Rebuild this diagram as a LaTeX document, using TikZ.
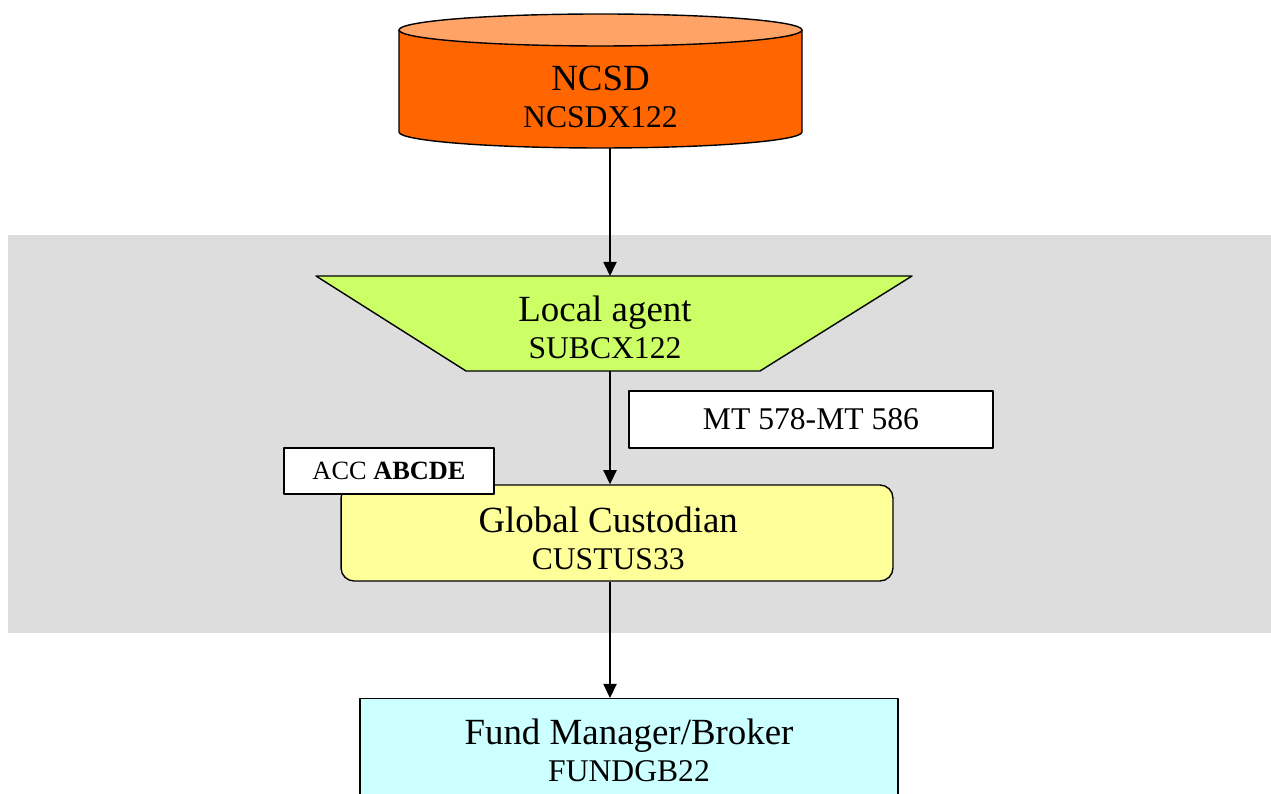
\documentclass[tikz,border=0pt]{standalone}
\usepackage{fontspec}
\setmainfont{Liberation Serif}
\usetikzlibrary{arrows.meta}
\definecolor{bandgray}{HTML}{DDDDDD}
\definecolor{csdbody}{HTML}{FF6600}
\definecolor{csdtop}{HTML}{FFA366}
\definecolor{agentgreen}{HTML}{CCFF66}
\definecolor{custyellow}{HTML}{FFFF99}
\definecolor{fundcyan}{HTML}{CCFFFF}
\newcommand{\twoline}[2]{{\fontsize{21}{21}\selectfont #1}\\#2}
\begin{document}
\begin{tikzpicture}[x=0.02cm, y=0.02cm, line width=0.8pt, line join=round,
  >={Triangle[width=7.5pt,length=8pt]},
  lbl/.style={align=center, inner sep=0pt, font=\fontsize{18}{21}\selectfont},
  box/.style={draw, inner sep=0pt},
  msgbox/.style={box, fill=white, font=\fontsize{18}{21}\selectfont}]
\useasboundingbox (0,0) rectangle (1271,794);
\fill[bandgray] (8,161) rectangle (1271,559);
\coordinate (spine) at (610,0);
\filldraw[fill=csdbody] (399,764) -- (399,662) arc[start angle=180, end angle=360, x radius=201.5, y radius=16] -- (802,764) -- cycle;
\filldraw[fill=csdtop] (600.5,764) ellipse [x radius=201.5, y radius=16];
\node[lbl] (ncsd) at (600.5,697) {\twoline{NCSD}{NCSDX122}};
\coordinate (ncsd-s) at (610,646);
\filldraw[fill=agentgreen] (316,518) -- (912,518) -- (760,423) -- (466,423) -- cycle;
\node[lbl] (agent) at (605,467) {\twoline{Local agent}{SUBCX122}};
\coordinate (agent-n) at (610,518);
\coordinate (agent-s) at (610,423);
\node[box, fill=custyellow, rounded corners=0.26cm, minimum width=11.04cm, minimum height=1.92cm,
  label={[lbl, xshift=-5pt, yshift=-3.3pt]center:{\twoline{Global Custodian}{CUSTUS33}}}] (gc) at (617,261) {};
\node[msgbox, minimum width=7.28cm, minimum height=1.14cm] (mt) at (811,374.5) {MT 578-MT 586};
\node[box, fill=white, minimum width=4.2cm, minimum height=0.92cm, font=\fontsize{15}{18}\selectfont] (acc) at (389,323) {ACC \textbf{ABCDE}};
\node[box, fill=fundcyan, anchor=north, minimum width=10.76cm, minimum height=3cm,
  label={[lbl, anchor=north, yshift=-11.4pt]north:{\twoline{Fund Manager/Broker}{FUNDGB22}}}] (fund) at (629,96) {};
\draw[->] (ncsd-s) -- (agent-n);
\draw[->] (agent-s) -- (gc.north -| spine);
\draw[->] (gc.south -| spine) -- (fund.north -| spine);
\end{tikzpicture}
\end{document}
